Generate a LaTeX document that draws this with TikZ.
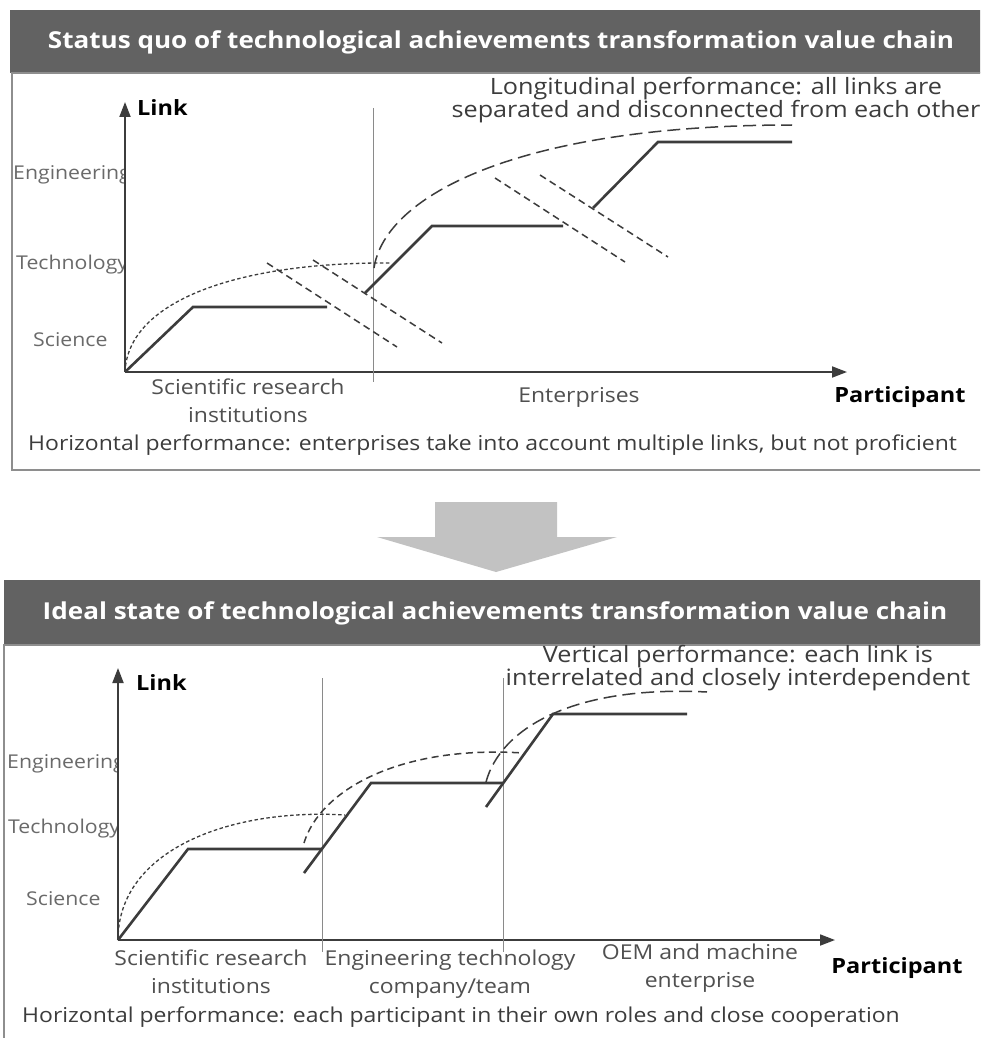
\documentclass[tikz,border=0pt]{standalone}
\usepackage{fontspec}
\setmainfont{Open Sans}[FakeStretch=1.12]
\usetikzlibrary{arrows.meta}
\definecolor{hdr}{HTML}{626262}
\definecolor{frame}{HTML}{8E8E8E}
\definecolor{ink}{HTML}{3C3C3C}
\definecolor{lbl}{HTML}{505050}
\definecolor{levelgray}{HTML}{6A6A6A}
\definecolor{blockarrow}{HTML}{C2C2C2}
\definecolor{sepline}{HTML}{8A8A8A}

\begin{document}
\begin{tikzpicture}[x=1pt,y=-1pt,
  headerbar/.style={fill=hdr, draw=none},
  panel/.style={draw=frame, line width=1.4pt, fill=white},
  titletext/.style={inner sep=0pt, text=white, font=\fontsize{23.3}{28}\selectfont\bfseries},
  txt/.style={inner sep=0pt, text=lbl, font=\fontsize{20.5}{28}\selectfont, align=center},
  level/.style={inner sep=0pt, text=levelgray, font=\fontsize{19}{24}\selectfont, anchor=west},
  note/.style={inner sep=0pt, text=ink, font=\fontsize{22.5}{21}\selectfont, align=center},
  boldtxt/.style={inner sep=0pt, text=black, font=\fontsize{21}{26}\selectfont\bfseries},
  axis/.style={draw=ink, line width=1.8pt, -{Triangle[length=15pt,width=11pt]}},
  sepline/.style={draw=sepline, line width=1pt},
  stepline/.style={draw=ink, line width=2.6pt, line join=miter},
  finedash/.style={draw=ink, line width=1.3pt, dash pattern=on 3.5pt off 2.5pt},
  middash/.style={draw=ink, line width=1.5pt, dash pattern=on 7pt off 4.5pt},
  longdash/.style={draw=ink, line width=1.5pt, dash pattern=on 13pt off 6pt},
]
\useasboundingbox (0,0) rectangle (980,1038);
\clip (0,0) rectangle (980,1038);

% ---------------- upper panel: status quo ----------------
\fill[headerbar] (10,10) rectangle (990,73);
\node[titletext] (tTitle) at (501,42) {Status quo of technological achievements transformation value chain};
\draw[panel] (12,73) rectangle (990,470);

\coordinate (tO) at (125,372);
\coordinate (tYtop) at (125,102);
\coordinate (tXend) at (847,372);

% level labels run under the axis and are cut by it
\begin{scope}
  \clip (14,140) rectangle (125,360);
  \node[level] (tEng) at (13,175) {Engineering};
  \node[level] (tTech) at (16,265) {Technology};
  \node[level] (tSci) at (33,340) {Science};
\end{scope}

\draw[axis] (tO) -- (tYtop);
\draw[axis] (tO) -- (tXend);
\node[boldtxt, anchor=west] (tLink) at (137,108) {Link};
\node[boldtxt] (tPart) at (900,397) {Participant};

\coordinate (tSepTop) at (373,108);
\coordinate (tSepBot) at (373,382);
\draw[sepline] (tSepTop) -- (tSepBot);

\node[txt] (tSRI) at (248,401) {Scientific research\\institutions};
\node[txt] (tEnt) at (579,397) {Enterprises};

\node[note] (tLong) at (716,100) {Longitudinal performance: all links are\\separated and disconnected from each other};
\node[txt, anchor=west, text=ink] (tHoriz) at (28,445) {Horizontal performance: enterprises take into account multiple links, but not proficient};

% steps of the upper chain
\coordinate (tA1) at (193,307); \coordinate (tA2) at (327,307);
\coordinate (tB0) at (365,293); \coordinate (tB1) at (432,226); \coordinate (tB2) at (563,226);
\coordinate (tC0) at (593,208); \coordinate (tC1) at (658,142); \coordinate (tC2) at (792,142);
\draw[stepline] (tO) -- (tA1) -- (tA2);
\draw[stepline] (tB0) -- (tB1) -- (tB2);
\draw[stepline] (tC0) -- (tC1) -- (tC2);

% envelopes
\draw[finedash] (tO) .. controls (128,300) and (240,262) .. (390,263);
\draw[longdash] (374,268) .. controls (385,195) and (520,125) .. (792,125);

% breaks between links
\draw[middash] (267,263) -- (397,347);
\draw[middash] (313,260) -- (442,343);
\draw[middash] (495,178) -- (625,262);
\draw[middash] (540,175) -- (668,257);

% ---------------- block arrow ----------------
\fill[blockarrow] (435,502) -- (557,502) -- (557,537) -- (617,537) -- (496,572) -- (377,537) -- (435,537) -- cycle;

% ---------------- lower panel: ideal state ----------------
\fill[headerbar] (4,580) rectangle (990,645);
\node[titletext] (bTitle) at (495,613) {Ideal state of technological achievements transformation value chain};
\draw[panel] (4,645) rectangle (990,1060);

\coordinate (bO) at (118,940);
\coordinate (bYtop) at (118,668);
\coordinate (bXend) at (835,940);

\begin{scope}
  \clip (6,730) rectangle (118,925);
  \node[level] (bEng) at (7,764) {Engineering};
  \node[level] (bTech) at (8,829) {Technology};
  \node[level] (bSci) at (26,899) {Science};
\end{scope}

\draw[axis] (bO) -- (bYtop);
\draw[axis] (bO) -- (bXend);
\node[boldtxt, anchor=west] (bLink) at (136,683) {Link};
\node[boldtxt] (bPart) at (897,968) {Participant};

\coordinate (bSep1Top) at (322,678); \coordinate (bSep1Bot) at (322,952);
\coordinate (bSep2Top) at (503,678); \coordinate (bSep2Bot) at (503,952);
\draw[sepline] (bSep1Top) -- (bSep1Bot);
\draw[sepline] (bSep2Top) -- (bSep2Bot);

\node[txt] (bSRI) at (211,972) {Scientific research\\institutions};
\node[txt] (bETC) at (450,974) {Engineering technology\\company/team};
\node[txt] (bOEM) at (700,968) {OEM and machine\\enterprise};

\node[note] (bVert) at (738,668) {Vertical performance: each link is\\interrelated and closely interdependent};
\node[txt, anchor=west, text=ink] (bHoriz) at (22,1017) {Horizontal performance: each participant in their own roles and close cooperation};

% steps of the lower chain
\coordinate (bA1) at (188,849); \coordinate (bA2) at (322,849);
\coordinate (bB0) at (304,873); \coordinate (bB1) at (371,783); \coordinate (bB2) at (503,783);
\coordinate (bC0) at (486,807); \coordinate (bC1) at (553,714); \coordinate (bC2) at (687,714);
\draw[stepline] (bO) -- (bA1) -- (bA2);
\draw[stepline] (bB0) -- (bB1) -- (bB2);
\draw[stepline] (bC0) -- (bC1) -- (bC2);

% overlapping envelopes
\draw[finedash] (bO) .. controls (118,850) and (230,808) .. (345,815);
\draw[middash] (304,843) .. controls (320,790) and (400,745) .. (523,753);
\draw[longdash] (486,782) .. controls (500,730) and (570,685) .. (707,692);
\end{tikzpicture}
\end{document}
